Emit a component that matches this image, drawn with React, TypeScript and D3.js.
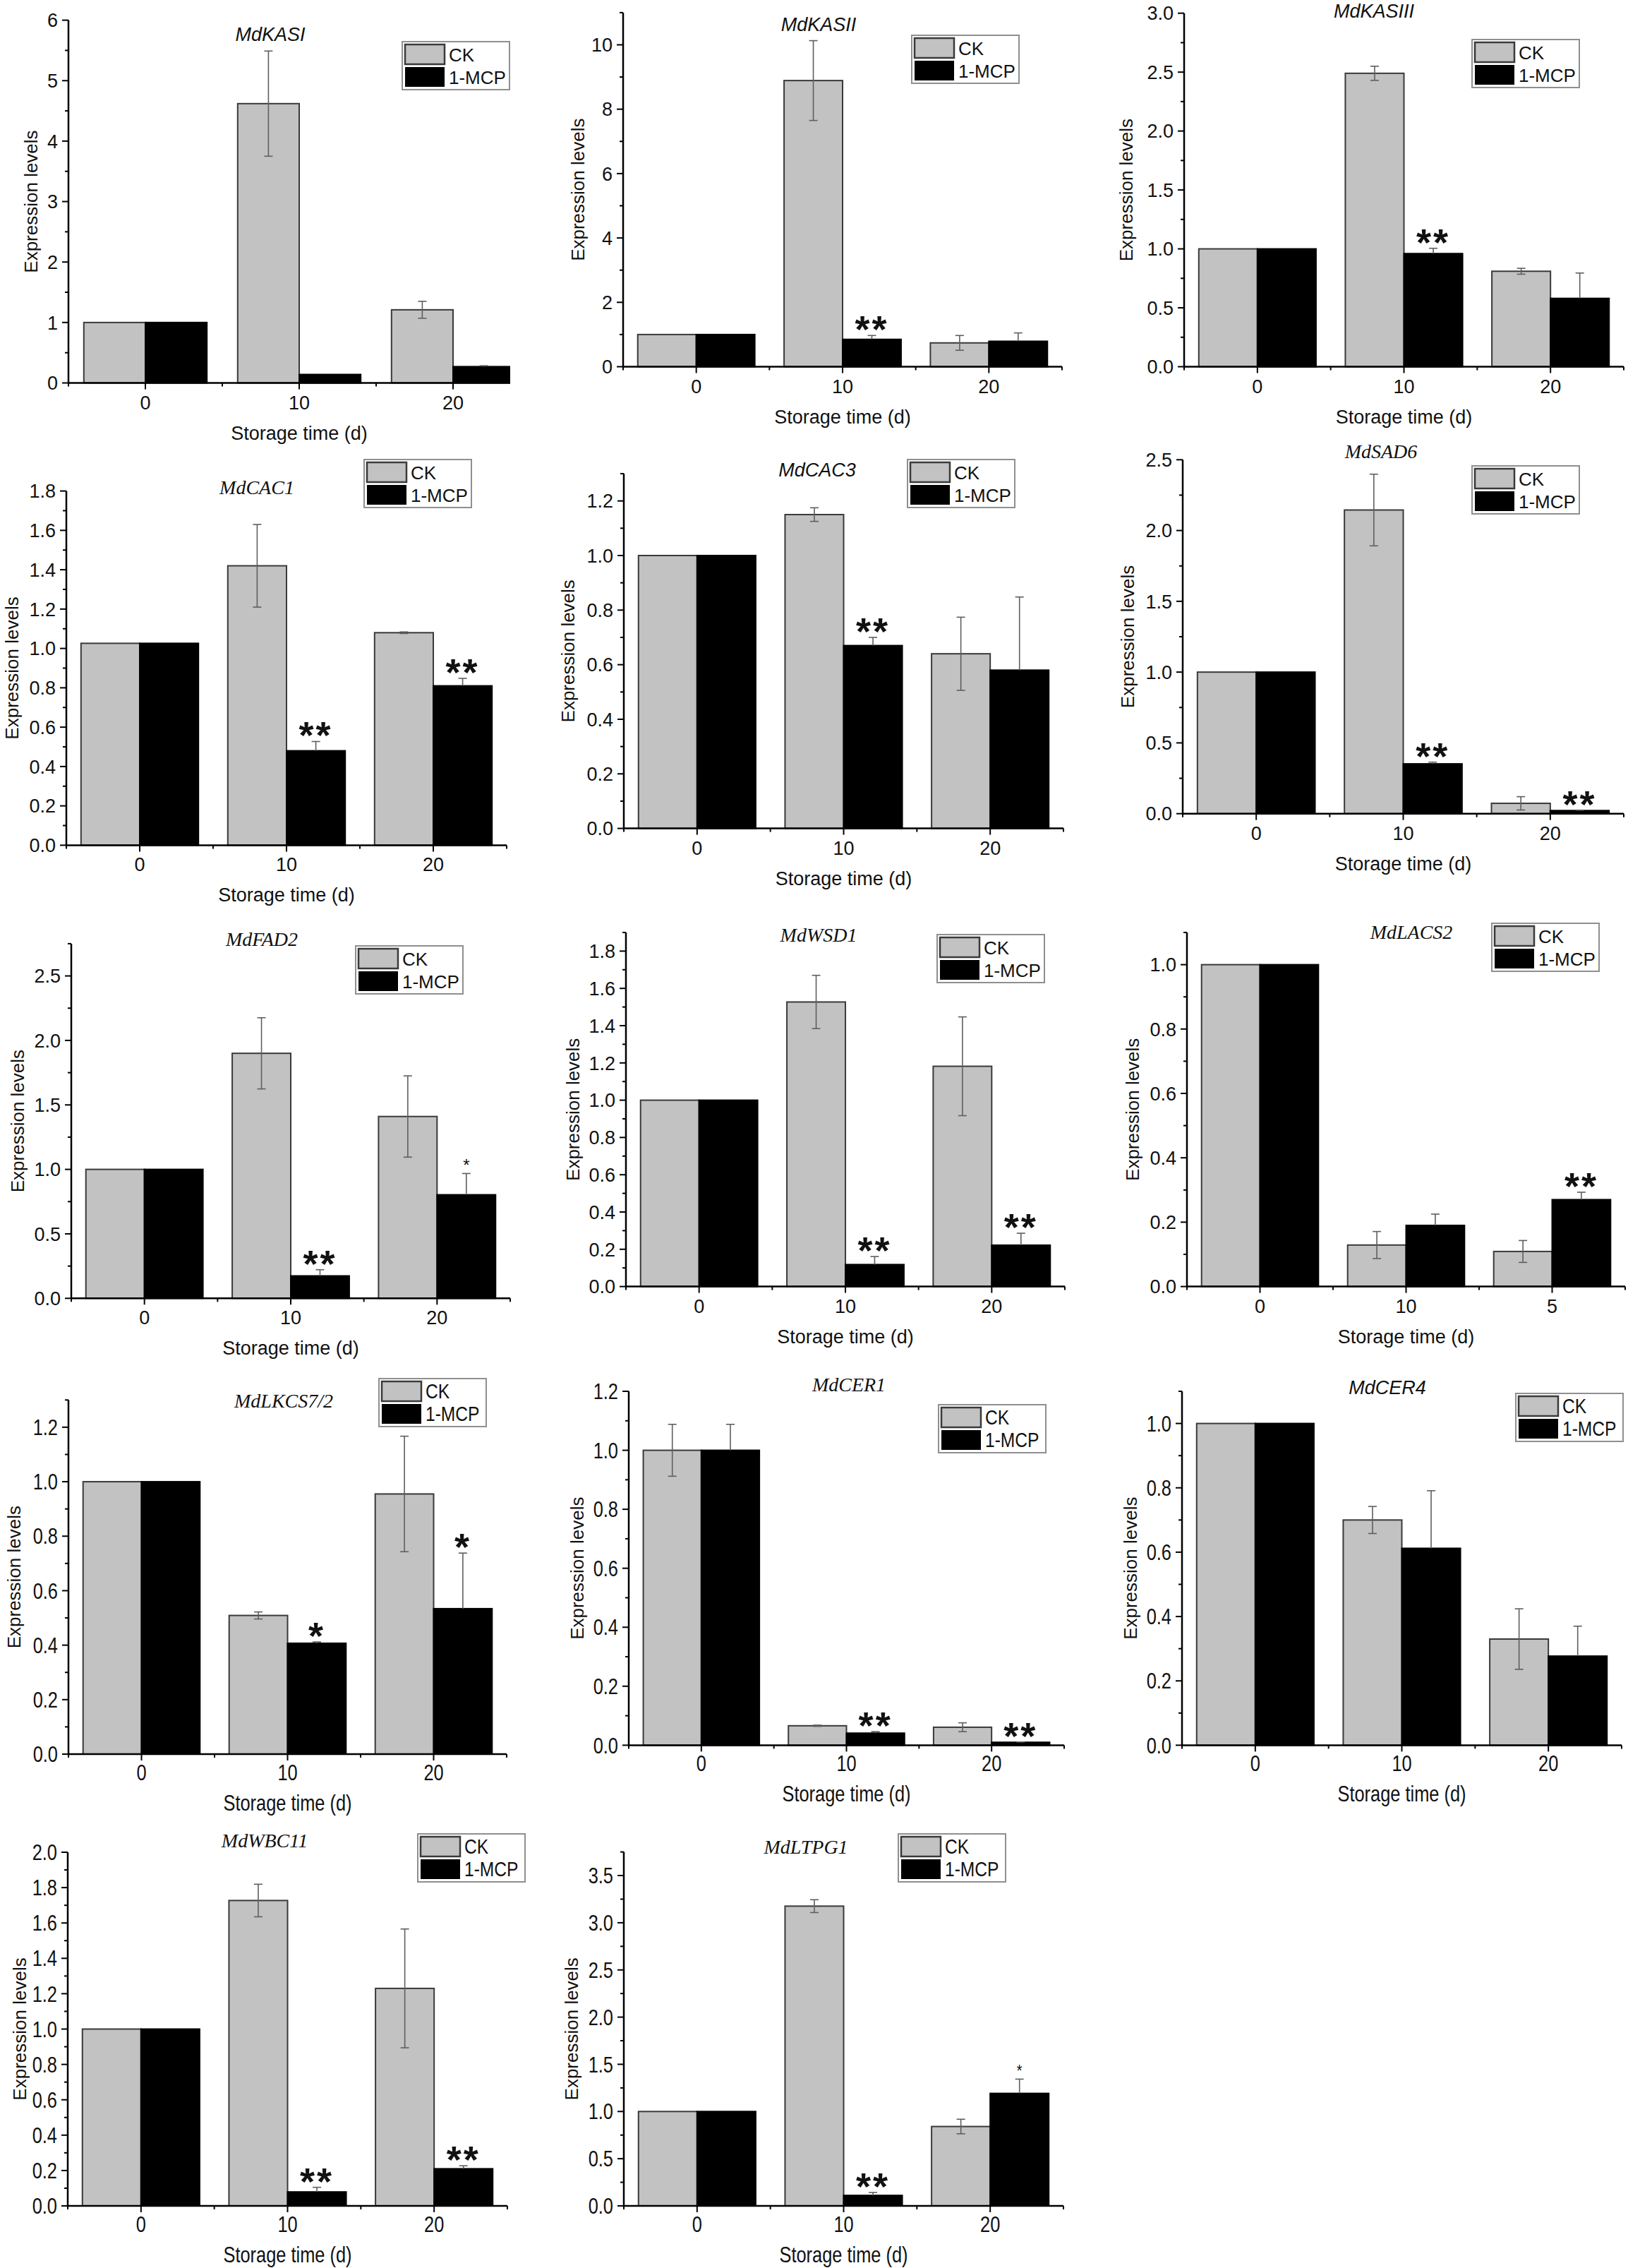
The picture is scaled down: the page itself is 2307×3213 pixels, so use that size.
import React from "react";
import * as d3 from "d3";

const genes = ["MdKASI", "MdKASII", "MdKASIII", "MdCAC1", "MdCAC3", "MdSAD6", "MdFAD2", "MdWSD1", "MdLACS2", "MdLKCS7/2", "MdCER1", "MdCER4", "MdWBC11", "MdLTPG1"];
const seriesNames = ["CK", "1-MCP"];
const xTitle = "Storage time (d)";
const yTitle = "Expression levels";

const dayLabels = [
  ["0", "10", "20"], ["0", "10", "20"], ["0", "10", "20"],
  ["0", "10", "20"], ["0", "10", "20"], ["0", "10", "20"],
  ["0", "10", "20"], ["0", "10", "20"], ["0", "10", "5"],
  ["0", "10", "20"], ["0", "10", "20"], ["0", "10", "20"],
  ["0", "10", "20"], ["0", "10", "20"],
];

const ckMean = [
  [1, 4.62, 1.21], [1, 8.89, 0.74], [1, 2.49, 0.81],
  [1.026, 1.42, 1.08], [1, 1.15, 0.64], [1, 2.145, 0.073],
  [1, 1.9, 1.41], [1, 1.527, 1.182], [1, 0.129, 0.109],
  [1, 0.509, 0.955], [1, 0.066, 0.061], [1, 0.7, 0.33],
  [1, 1.727, 1.23], [1, 3.176, 0.841],
];
const ckErr = [
  [0, 0.87, 0.14], [0, 1.24, 0.23], [0, 0.06, 0.025],
  [0, 0.21, 0.004], [0, 0.025, 0.134], [0, 0.253, 0.047],
  [0, 0.276, 0.315], [0, 0.143, 0.265], [0, 0.042, 0.034],
  [0, 0.013, 0.212], [0.088, 0.002, 0.015], [0, 0.042, 0.094],
  [0, 0.092, 0.336], [0, 0.068, 0.077],
];
const mcpMean = [
  [1, 0.14, 0.27], [1, 0.85, 0.79], [1, 0.96, 0.58],
  [1.026, 0.48, 0.81], [1, 0.67, 0.58], [1, 0.352, 0.022],
  [1, 0.174, 0.803], [1, 0.118, 0.222], [1, 0.19, 0.27],
  [1, 0.407, 0.534], [1, 0.041, 0.01], [1, 0.612, 0.277],
  [1, 0.079, 0.21], [1, 0.111, 1.192],
];
const mcpErr = [
  [0, 0, 0.015], [0, 0.12, 0.26], [0, 0.045, 0.215],
  [0, 0.047, 0.038], [0, 0.03, 0.268], [0, 0.012, 0.003],
  [0, 0.048, 0.165], [0, 0.043, 0.064], [0, 0.035, 0.023],
  [0, 0.005, 0.204], [0.088, 0.005, 0.001], [0, 0.179, 0.093],
  [0, 0.026, 0.017], [0, 0.031, 0.151],
];
const mcpSig = [
  ["", "", ""], ["", "**", ""], ["", "**", ""],
  ["", "**", "**"], ["", "**", ""], ["", "**", "**"],
  ["", "**", "*"], ["", "**", "**"], ["", "", "**"],
  ["", "*", "*"], ["", "**", "**"], ["", "", ""],
  ["", "**", "**"], ["", "**", "*"],
];

// y axis: top of axis, last labelled tick, tick step, decimals
const yMax = [6, 11, 3, 1.8, 1.3, 2.5, 2.75, 1.9, 1.1, 1.3, 1.2, 1.1, 2.0, 3.75];
const yLastTick = [6, 10, 3, 1.8, 1.2, 2.5, 2.5, 1.8, 1.0, 1.2, 1.2, 1.0, 2.0, 3.5];
const yStep = [1, 2, 0.5, 0.2, 0.2, 0.5, 0.5, 0.2, 0.2, 0.2, 0.2, 0.2, 0.2, 0.5];
const yDecimals = [0, 0, 1, 1, 1, 1, 1, 1, 1, 1, 1, 1, 1, 1];

// layout (pixels in the 2307x3213 figure)
const frames = [
  { left: 97, right: 751, clip: 723, zero: 542.5, top: 28.6, gap: 53 },
  { left: 883, right: 1505, zero: 519.5, top: 17.9, gap: 64 },
  { left: 1678, right: 2301, zero: 519.5, top: 18.7, gap: 82 },
  { left: 94, right: 718, zero: 1197.4, top: 695.6, gap: 77 },
  { left: 884, right: 1507, zero: 1173.6, top: 671, gap: 79 },
  { left: 1676, right: 2301, zero: 1152.7, top: 651.3, gap: 78 },
  { left: 101, right: 723, zero: 1839.3, top: 1336.9, gap: 76 },
  { left: 887, right: 1509, zero: 1822.6, top: 1321, gap: 75 },
  { left: 1682, right: 2303, zero: 1822.6, top: 1321, gap: 77 },
  { left: 97, right: 718, zero: 2485, top: 1983.3, gap: 77 },
  { left: 891, right: 1508, zero: 2472.4, top: 1971, gap: 73 },
  { left: 1675, right: 2298, zero: 2472.4, top: 1971, gap: 73 },
  { left: 96, right: 719, zero: 3125, top: 2624, gap: 68 },
  { left: 884, right: 1507, zero: 3125, top: 2623.6, gap: 74 },
];
const titlePos = [
  [383, 58], [1160, 44], [1947, 25], [364, 700], [1158, 675], [1957, 649], [371, 1340],
  [1160, 1334], [2000, 1330], [402, 1994], [1203, 1971], [1966, 1975], [375, 2617], [1142, 2626],
];
const titleSerif = [false, false, false, true, false, true, true, true, true, true, true, false, true, true];
const legendPos = [
  [570, 59], [1292, 50], [2086, 56], [516, 651], [1286, 651], [2086, 660], [504, 1340],
  [1328, 1324], [2114, 1308], [537, 1953], [1330, 1990], [2148, 1974], [592, 2598], [1273, 2598],
];
const lightStar = [false, false, false, false, false, false, true, false, false, false, false, false, false, true];

const SANS = "'Liberation Sans', Arial, sans-serif";
const SERIF = "'Liberation Serif', 'Times New Roman', serif";
const CK_FILL = "#c2c2c2";
const ERR = "#5f5f5f";

function Txt(props: { x: number; y: number; narrow?: boolean; size: number; anchor?: string; children: React.ReactNode; style?: any; weight?: string; baseline?: string }) {
  const sx = props.narrow ? 0.82 : 1;
  return (
    <text
      transform={`translate(${props.x},${props.y}) scale(${sx},1)`}
      fontSize={props.size}
      fontFamily={SANS}
      textAnchor={props.anchor || "middle"}
      fontWeight={props.weight}
      dominantBaseline={props.baseline}
      fill="#111"
      style={props.style}
    >
      {props.children}
    </text>
  );
}

function Panel({ i }: { i: number }) {
  const f = frames[i];
  const narrow = i >= 9;
  const fs = narrow ? 31 : 27;
  const end = f.clip ?? f.right;
  const x = d3.scaleLinear().domain([-0.5, 2.5]).range([f.left, f.right]);
  const y = d3.scaleLinear().domain([0, yMax[i]]).range([f.zero, f.top]);
  const fmt = d3.format(`.${yDecimals[i]}f`);
  const nMajor = Math.round(yLastTick[i] / yStep[i]);
  const majors = d3.range(0, nMajor + 1).map((k) => k * yStep[i]);
  const nMinor = Math.round(yMax[i] / (yStep[i] / 2));
  const minors = d3.range(0, nMinor + 1).map((k) => (k * yStep[i]) / 2).filter((_, k) => k % 2 === 1);
  const cats = [0, 1, 2];
  const xMinor = [-0.5, 0.5, 1.5, 2.5].filter((v) => x(v) <= end + 0.5);
  const clipId = `clip${i}`;
  const [lx, ly] = legendPos[i];

  return (
    <g>
      <defs>
        <clipPath id={clipId}>
          <rect x={f.left - 200} y={0} width={end - f.left + 200} height={3213} />
        </clipPath>
      </defs>
      <g clipPath={`url(#${clipId})`}>
        {cats.map((c) => (
          <g key={c}>
            <rect x={x(c - 0.4)} y={y(ckMean[i][c])} width={x(c) - x(c - 0.4)} height={f.zero - y(ckMean[i][c])} fill={CK_FILL} stroke="#3a3a3a" strokeWidth={2} />
            <rect x={x(c)} y={y(mcpMean[i][c])} width={x(c + 0.4) - x(c)} height={f.zero - y(mcpMean[i][c])} fill="#000" stroke="#000" strokeWidth={2} />
          </g>
        ))}
        {cats.map((c) => {
          const e = ckErr[i][c];
          if (!e) return null;
          const cx = x(c - 0.2);
          const t = y(ckMean[i][c] + e);
          const b = y(Math.max(0, ckMean[i][c] - e));
          return (
            <g key={"ce" + c} stroke={ERR} strokeWidth={1.6}>
              <line x1={cx} x2={cx} y1={t} y2={b} />
              <line x1={cx - 6} x2={cx + 6} y1={t} y2={t} />
              <line x1={cx - 6} x2={cx + 6} y1={b} y2={b} />
            </g>
          );
        })}
        {cats.map((c) => {
          const e = mcpErr[i][c];
          if (!e) return null;
          const cx = x(c + 0.2);
          const t = y(mcpMean[i][c] + e);
          // lower half falls inside the black bar
          return (
            <g key={"me" + c} stroke={ERR} strokeWidth={1.6}>
              <line x1={cx} x2={cx} y1={t} y2={y(mcpMean[i][c])} />
              <line x1={cx - 6} x2={cx + 6} y1={t} y2={t} />
            </g>
          );
        })}
      </g>

      {cats.map((c) => {
        const s = mcpSig[i][c];
        if (!s) return null;
        const cx = x(c + 0.2);
        const t = y(mcpMean[i][c] + mcpErr[i][c]);
        if (s === "*" && lightStar[i]) {
          return (
            <Txt key={"s" + c} x={cx} y={t - 3} size={24} narrow={narrow}>
              {s}
            </Txt>
          );
        }
        return (
          <Txt key={"s" + c} x={cx} y={t + 10} size={54} weight="bold" style={{ letterSpacing: "3px" }}>
            {s}
          </Txt>
        );
      })}

      {/* axes */}
      <line x1={f.left} x2={end} y1={f.zero} y2={f.zero} stroke="#000" strokeWidth={2.5} />
      <line x1={f.left} x2={f.left} y1={f.zero + 1.2} y2={f.top} stroke="#000" strokeWidth={2.5} />
      {majors.map((v) => (
        <g key={"yt" + v}>
          <line x1={f.left - 9} x2={f.left} y1={y(v)} y2={y(v)} stroke="#000" strokeWidth={2} />
          <Txt x={f.left - 15} y={y(v) + fs * 0.36} size={fs} anchor="end" narrow={narrow}>
            {fmt(v)}
          </Txt>
        </g>
      ))}
      {minors.map((v) => (
        <line key={"ym" + v} x1={f.left - 5} x2={f.left} y1={y(v)} y2={y(v)} stroke="#000" strokeWidth={2} />
      ))}
      {cats.map((c) => (
        <g key={"xt" + c}>
          <line x1={x(c)} x2={x(c)} y1={f.zero} y2={f.zero + 9} stroke="#000" strokeWidth={2} />
          <Txt x={x(c)} y={f.zero + 37} size={fs} narrow={narrow}>
            {dayLabels[i][c]}
          </Txt>
        </g>
      ))}
      {xMinor.map((v) => (
        <line key={"xm" + v} x1={x(v)} x2={x(v)} y1={f.zero} y2={f.zero + 5} stroke="#000" strokeWidth={2} />
      ))}
      <Txt x={x(1)} y={f.zero + 80} size={fs} narrow={narrow}>
        {xTitle}
      </Txt>
      <text
        transform={`translate(${f.left - f.gap},${(f.zero + f.top) / 2}) rotate(-90)`}
        fontSize={26}
        fontFamily={SANS}
        textAnchor="middle"
        dominantBaseline="central"
        fill="#111"
      >
        {yTitle}
      </text>

      {/* gene name */}
      <text
        x={titlePos[i][0]}
        y={titlePos[i][1]}
        fontSize={titleSerif[i] ? 28 : 27}
        fontFamily={titleSerif[i] ? SERIF : SANS}
        fontStyle="italic"
        textAnchor="middle"
        fill="#111"
      >
        {genes[i]}
      </text>

      {/* legend */}
      <rect x={lx} y={ly} width={152} height={68} fill="#fff" stroke="#8f8f8f" strokeWidth={2} />
      <rect x={lx + 4} y={ly + 4} width={56} height={28} fill={CK_FILL} stroke="#3a3a3a" strokeWidth={2.5} />
      <rect x={lx + 4} y={ly + 36} width={56} height={28} fill="#000" />
      <Txt x={lx + 66} y={ly + 28} size={narrow ? 30 : 26} anchor="start" narrow={narrow}>
        {seriesNames[0]}
      </Txt>
      <Txt x={lx + 66} y={ly + 60} size={narrow ? 30 : 26} anchor="start" narrow={narrow}>
        {seriesNames[1]}
      </Txt>
    </g>
  );
}

export default function App() {
  return (
    <div>
      <style>{"body{margin:0;background:#fff}"}</style>
      <svg width={2307} height={3213} style={{ display: "block", background: "#fff" }}>
        {genes.map((g, i) => (
          <Panel key={g} i={i} />
        ))}
      </svg>
    </div>
  );
}
